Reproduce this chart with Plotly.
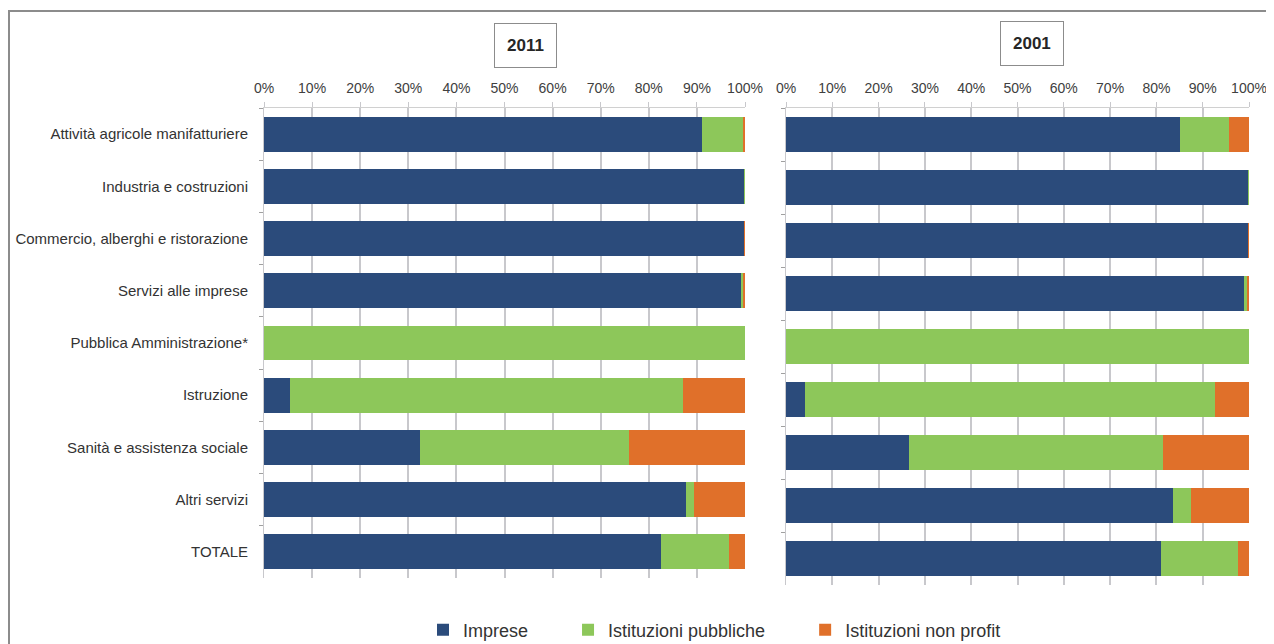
import plotly.graph_objects as go

# Categories (top to bottom)
categories = [
    "Attività agricole manifatturiere",
    "Industria e costruzioni",
    "Commercio, alberghi e ristorazione",
    "Servizi alle imprese",
    "Pubblica Amministrazione*",
    "Istruzione",
    "Sanità e assistenza sociale",
    "Altri servizi",
    "TOTALE",
]

# 2011 shares (%)
imprese_2011 = [91.1, 99.9, 99.9, 99.2, 0.0, 5.4, 32.4, 87.7, 82.5]
pubbliche_2011 = [8.5, 0.1, 0.0, 0.5, 100.0, 81.7, 43.5, 1.7, 14.2]
nonprofit_2011 = [0.4, 0.0, 0.1, 0.3, 0.0, 12.9, 24.1, 10.6, 3.3]

# 2001 shares (%)
imprese_2001 = [85.1, 99.9, 99.8, 98.9, 0.0, 4.1, 26.6, 83.6, 81.0]
pubbliche_2001 = [10.6, 0.1, 0.1, 0.8, 100.0, 88.6, 54.8, 3.9, 16.6]
nonprofit_2001 = [4.3, 0.0, 0.1, 0.3, 0.0, 7.3, 18.6, 12.5, 2.4]

series_names = ["Imprese", "Istituzioni pubbliche", "Istituzioni non profit"]
colors = ["#2B4B7B", "#8DC75A", "#E0702A"]

# page body has an 8px margin, so the figure is a bit smaller than the window
OFF = 8
W, H = 1274 - OFF, 644 - OFF
font = "Liberation Sans, Arial, sans-serif"
legend_pad = [7, 7, 0]  # non-breaking spaces after each legend label

fig = go.Figure()

# Left panel (2011)
for name, vals, col, p in zip(series_names, [imprese_2011, pubbliche_2011, nonprofit_2011], colors, legend_pad):
    fig.add_trace(go.Bar(
        y=categories, x=vals, name=name + "\u00a0" * p, orientation="h",
        marker=dict(color=col, line=dict(width=0)),
        xaxis="x", yaxis="y", legendgroup=name, showlegend=True,
    ))

# Right panel (2001)
for name, vals, col, p in zip(series_names, [imprese_2001, pubbliche_2001, nonprofit_2001], colors, legend_pad):
    fig.add_trace(go.Bar(
        y=categories, x=vals, name=name + "\u00a0" * p, orientation="h",
        marker=dict(color=col, line=dict(width=0)),
        xaxis="x2", yaxis="y2", legendgroup=name, showlegend=False,
    ))

def px_x(p):
    return (p - OFF) / W

def px_y(p):
    return 1 - (p - OFF) / H

xaxis_common = dict(
    range=[0, 100], dtick=10, ticksuffix="%", side="top",
    showgrid=True, gridcolor="#C8C8CC", gridwidth=1.5,
    ticks="outside", ticklen=5, tickcolor="#C8C8CC", ticklabelstandoff=3,
    showline=True, linecolor="#D0D0D0", linewidth=1,
    zeroline=False, fixedrange=True, automargin=False,
    tickfont=dict(family=font, size=14, color="#404040"),
)

yaxis_common = dict(
    autorange="reversed", type="category",
    ticks="outside", ticklen=4, tickcolor="#A0A0A0", tickson="boundaries",
    showline=True, linecolor="#C8C8CC", linewidth=1,
    automargin=False, fixedrange=True,
)

fig.update_layout(
    width=W, height=H,
    margin=dict(l=0, r=0, t=0, b=0, autoexpand=False),
    paper_bgcolor="white", plot_bgcolor="white",
    barmode="stack", bargap=0.33,
    font=dict(family=font, size=13, color="#404040"),
    xaxis=dict(domain=[px_x(264), px_x(745)], anchor="y", **xaxis_common),
    xaxis2=dict(domain=[px_x(786), px_x(1249)], anchor="y2", **xaxis_common),
    yaxis=dict(
        domain=[px_y(578), px_y(108)], anchor="x",
        ticklabelstandoff=12,
        tickfont=dict(family=font, size=15, color="#333333"),
        **yaxis_common,
    ),
    yaxis2=dict(
        domain=[px_y(585), px_y(108)], anchor="x2",
        showticklabels=False,
        **yaxis_common,
    ),
    legend=dict(
        orientation="h", x=px_x(423), xanchor="left", y=px_y(630), yanchor="middle",
        font=dict(family=font, size=18, color="#333333"),
        itemwidth=30, traceorder="normal", bgcolor="rgba(0,0,0,0)",
    ),
    shapes=[
        dict(type="rect", xref="paper", yref="paper",
             x0=px_x(9), x1=px_x(1269), y0=-0.1, y1=px_y(11),
             line=dict(color="#8C8C8C", width=2), fillcolor="rgba(0,0,0,0)"),
    ],
    annotations=[
        dict(text="<b>2011</b>", xref="paper", yref="paper",
             x=px_x(525), y=px_y(45), xanchor="center", yanchor="middle", showarrow=False,
             font=dict(family=font, size=17, color="#262626"),
             bordercolor="#8C8C8C", borderwidth=1, borderpad=12, bgcolor="white"),
        dict(text="<b>2001</b>", xref="paper", yref="paper",
             x=px_x(1032), y=px_y(44), xanchor="center", yanchor="middle", showarrow=False,
             font=dict(family=font, size=17, color="#262626"),
             bordercolor="#8C8C8C", borderwidth=1, borderpad=12, bgcolor="white"),
    ],
)

fig.write_html("out.html")
